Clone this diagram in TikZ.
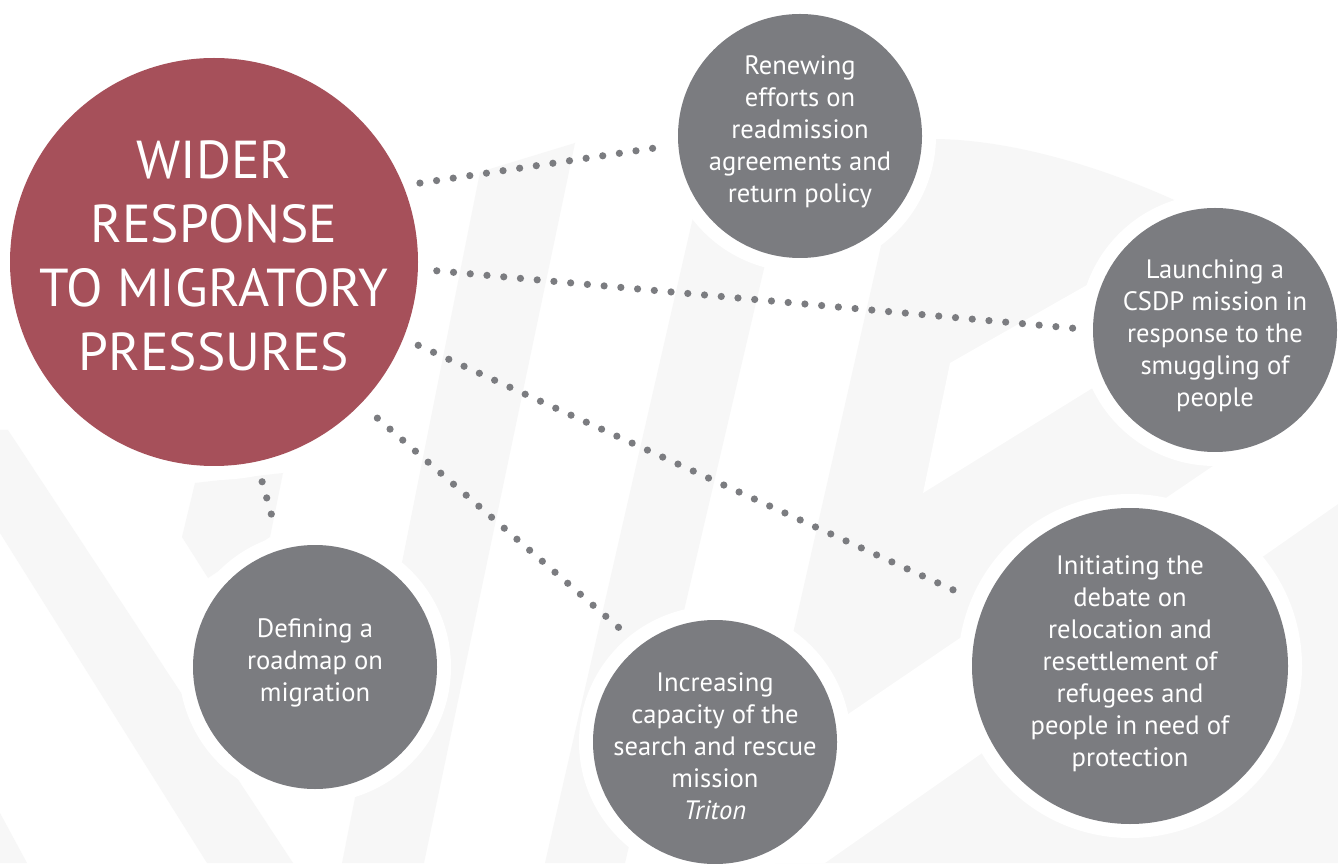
\documentclass[tikz,border=0pt]{standalone}
\usepackage{fontspec}
\setmainfont{PT Sans}
\definecolor{wine}{HTML}{A6505A}
\definecolor{slate}{HTML}{7B7C80}
\definecolor{mist}{HTML}{F7F7F7}
\tikzset{
  bubble/.style={circle, fill=slate, inner sep=0pt, outer sep=0pt,
    preaction={draw=white, line width=14pt}},
  bigbubble/.style={bubble, fill=wine},
  bubbletext/.style={text=white, align=center, inner sep=0pt,
    font=\fontsize{13.3}{16}\selectfont},
  bigtext/.style={text=white, align=center, inner sep=0pt,
    font=\fontsize{26.7}{32}\selectfont},
  dotline/.style={slate, line width=3.6pt, line cap=round,
    dash pattern=on 0pt off 8.4pt},
  wmark/.style={fill=mist}
}
\begin{document}
\begin{tikzpicture}[x=0.5pt, y=0.5pt]
                \useasboundingbox (0,0) rectangle (1338,863);
                \fill [white] (0,0) rectangle (1338,863);

                % faint watermark behind the bubbles
                \fill [wmark] (480,691) -- (575,720) -- (424,0) -- (342,0) -- cycle;
                \fill [wmark] (697,663) -- (780,663) -- (625,0) -- (545,0) -- cycle;
                \fill [wmark] (905,723) .. controls (1050,735) and (1250,640) .. (1338,563)
                        -- (1338,0) -- (741,0) -- cycle;
                \fill [white] (950,500) -- (1338,721) -- (1338,627) -- (923,370) -- cycle;
                \fill [white] (760,89) -- (1338,482) -- (1338,359) -- (825,0) -- (741,0) -- cycle;
                \fill [wmark] (0,433) -- (8,433) -- (293,0) -- (207,0) -- (0,330) -- cycle;
                \fill [wmark] (0,50) -- (27,0) -- (0,0) -- cycle;
                \fill [wmark] (195,380) -- (283,390) -- (270,326) -- (208,285) -- (182,326) -- cycle;

                % bubbles
                \node [bigbubble, minimum size=204pt] (red) at (214,601) {};
                \node [bubble, minimum size=122pt] (renew) at (800,727) {};
                \node [bubble, minimum size=122pt] (launch) at (1215,533) {};
                \node [bubble, minimum size=158pt] (init) at (1130,197) {};
                \node [bubble, minimum size=122pt] (define) at (315,196) {};
                \node [bubble, minimum size=122pt] (increase) at (715,121) {};

                \node [bigtext] (redtxt) at ([yshift=3pt]red.center)
                        {WIDER\\RESPONSE\\TO MIGRATORY\\PRESSURES};
                \node [bubbletext] (renewtxt) at ([yshift=2pt]renew.center)
                        {Renewing\\efforts on\\readmission\\agreements and\\return policy};
                \node [bubbletext] (launchtxt) at ([yshift=-3pt]launch.center)
                        {Launching a\\CSDP mission in\\response to the\\smuggling of\\people};
                \node [bubbletext] (inittxt) at ([yshift=1pt]init.center)
                        {Initiating the\\debate on\\relocation and\\resettlement of\\refugees and\\people in need of\\protection};
                \node [bubbletext] (definetxt) at ([yshift=2pt]define.center)
                        {Defining a\\roadmap on\\migration};
                \node [bubbletext] (increasetxt) at ([yshift=-2pt]increase.center)
                        {Increasing\\capacity of the\\search and rescue\\mission\\\textit{Triton}};

                % dotted links
                \draw [dotline, shorten <=8.5pt, shorten >=10pt] (red.22.6) -- (renew.184.8);
                \draw [dotline, shorten <=9.5pt, shorten >=10pt] (red.-2.8) -- (launch.180.8);
                \draw [dotline, shorten <=8.3pt, shorten >=9.8pt] (red.-22.4) -- (init.157.5);
                \draw [dotline, shorten <=11pt, shorten >=9.8pt] (red.-44.3) -- (increase.128.4);
                \draw [dotline, shorten <=10.5pt, shorten >=15.5pt] (red.-78.2) -- (define.106);
\end{tikzpicture}
\end{document}
